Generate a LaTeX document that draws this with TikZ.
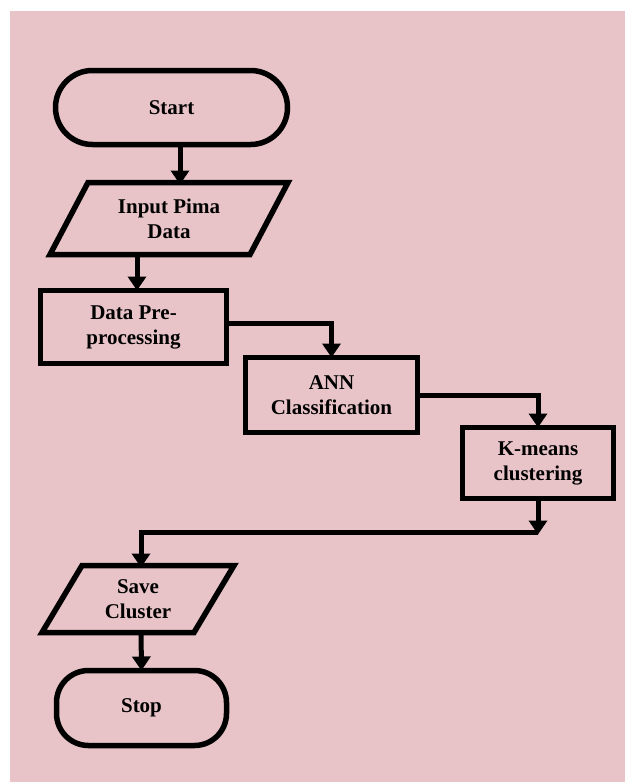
\documentclass[tikz,border=0pt]{standalone}
\usepackage{fontspec}
\setmainfont{Liberation Serif}
\usetikzlibrary{arrows.meta,calc}
\definecolor{bgpink}{RGB}{232,196,200}
\begin{document}
\begin{tikzpicture}[x=1pt,y=-1pt,
  lbl/.style={font=\fontsize{21}{25}\selectfont\bfseries,align=center},
  box/.style={lbl,draw,line width=5.5pt,rectangle,inner sep=0pt,outer sep=0pt},
  term/.style={box,rounded corners=#1},
  ghost/.style={lbl,rectangle,inner sep=0pt,outer sep=0pt},
  border/.style={line width=5.5pt,line join=miter},
  conn/.style={line width=5pt,-{Triangle[width=18pt,length=14pt]}},
  link/.style={line width=5pt}]
\useasboundingbox (0,0) rectangle (625,782);
\fill[white] (0,0) rectangle (625,782);
\fill[bgpink] (10,11) rectangle (625,782);

% nodes
\node[term=36.9pt,minimum width=232pt,minimum height=74pt] (start) at (171.5,107.5) {Start};
\node[ghost,minimum width=200pt,minimum height=72pt] (input) at (169,218.5) {Input Pima\\Data};
\draw[border] (88,182.5) -- (288,182.5) -- (250,254.5) -- (50,254.5) -- cycle;
\node[box,minimum width=186pt,minimum height=73pt] (prep) at (133.5,327) {Data Pre-\\processing};
\node[box,minimum width=172pt,minimum height=75pt] (ann) at (331.5,395) {ANN\\Classification};
\node[box,minimum width=151pt,minimum height=71pt] (kmeans) at (538,463) {K-means\\clustering};
\node[ghost,minimum width=152pt,minimum height=67pt] (save) at (138,599) {Save\\Cluster};
\draw[border] (82,565.5) -- (234,565.5) -- (194,632.5) -- (42,632.5) -- cycle;
\node[term=32pt,minimum width=170pt,minimum height=75pt] (stop) at (141.5,708) {Stop};

% helper coordinates
\coordinate (xa) at (180,0);
\coordinate (xb) at (137,0);
\coordinate (xc) at (141,0);
\coordinate (turn) at (538,532);

% connectors
\draw[conn] ([yshift=2pt]start.south -| xa) -- ([yshift=-2pt]input.north -| xa);
\draw[conn] ([yshift=2pt]input.south -| xb) -- (prep.north -| xb);
\draw[conn] ([yshift=4pt]prep.east) -| (ann.north);
\draw[conn] (ann.east) -| (kmeans.north);
\draw[conn] (kmeans.south) -- ([yshift=-2.5pt]turn);
\draw[conn] (turn) -| ([yshift=-2pt]save.north -| xc);
\draw[conn] ([yshift=2pt]save.south -| xc) -- (stop.north);
\end{tikzpicture}
\end{document}
